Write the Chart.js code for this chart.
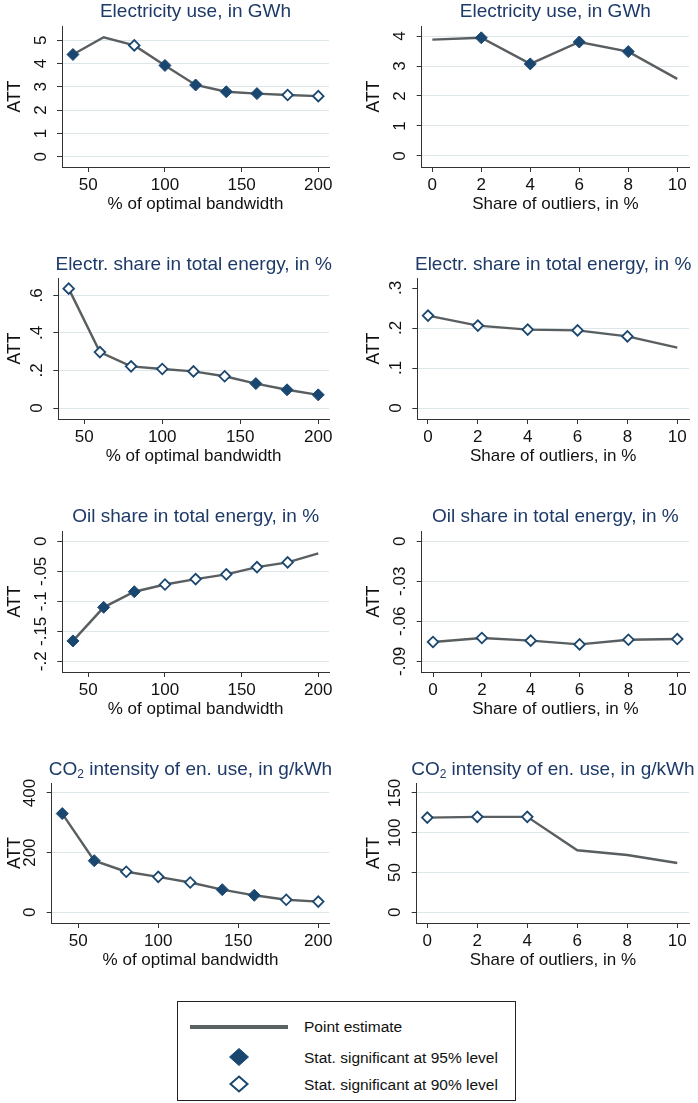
<!DOCTYPE html>
<html>
<head>
<meta charset="utf-8">
<script src="https://cdn.jsdelivr.net/npm/chart.js@4.4.1/dist/chart.umd.min.js"></script>
<style>
  body { margin: 0; background: #fff; font-family: "Liberation Sans", Arial, Helvetica, sans-serif; }
  #page { position: relative; width: 698px; height: 1103px; overflow: hidden; }
  canvas { position: absolute; }
  .ttl { position: absolute; width: 420px; text-align: center; white-space: nowrap;
         font-size: 19px; line-height: 19px; color: #1e3a68; }
  .ttl sub { font-size: 12px; line-height: 0; vertical-align: -3px; }
  #legend { position: absolute; left: 177px; top: 1001px; width: 339px; height: 100px;
            box-sizing: border-box; border: 1px solid #222; font-size: 15.5px; color: #111; }
  #legend .row { position: absolute; left: 126px; line-height: 18px; white-space: nowrap; }
  #legend svg { position: absolute; }
</style>
</head>
<body>
<div id="page"></div>
<script>
// x values
var bandwidth = [40, 60, 80, 100, 120, 140, 160, 180, 200];
var outliers = [0, 2, 4, 6, 8, 10];
var bwTicks = [50, 100, 150, 200];
var outTicks = [0, 2, 4, 6, 8, 10];

// point estimates; sig: 2 = 95% level, 1 = 90% level, 0 = not significant
var elecBw = [4.39, 5.13, 4.78, 3.92, 3.08, 2.79, 2.71, 2.65, 2.60];
var elecBwSig = [2, 0, 1, 2, 2, 2, 2, 1, 1];
var elecOut = [3.88, 3.94, 3.07, 3.80, 3.48, 2.57];
var elecOutSig = [0, 2, 2, 2, 2, 0];

var eshareBw = [0.636, 0.298, 0.222, 0.208, 0.195, 0.169, 0.130, 0.097, 0.070];
var eshareBwSig = [1, 1, 1, 1, 1, 1, 2, 2, 2];
var eshareOut = [0.231, 0.206, 0.196, 0.194, 0.179, 0.151];
var eshareOutSig = [1, 1, 1, 1, 1, 0];

var oilBw = [-0.166, -0.110, -0.084, -0.072, -0.063, -0.055, -0.043, -0.035, -0.020];
var oilBwSig = [2, 2, 2, 1, 1, 1, 1, 1, 0];
var oilOut = [-0.0755, -0.0725, -0.0745, -0.0773, -0.0738, -0.0733];
var oilOutSig = [1, 1, 1, 1, 1, 1];

var co2Bw = [331, 173, 136, 119, 100, 76, 57, 42, 36];
var co2BwSig = [2, 2, 1, 1, 1, 2, 2, 1, 1];
var co2Out = [119, 120, 120, 78, 72, 62];
var co2OutSig = [1, 1, 1, 0, 0, 0];

// y ticks and their labels
var elecBwTicks = [0, 1, 2, 3, 4, 5], elecBwLabels = ['0', '1', '2', '3', '4', '5'];
var elecOutTicks = [0, 1, 2, 3, 4], elecOutLabels = ['0', '1', '2', '3', '4'];
var eshareBwTicks = [0, 0.2, 0.4, 0.6], eshareBwLabels = ['0', '.2', '.4', '.6'];
var eshareOutTicks = [0, 0.1, 0.2, 0.3], eshareOutLabels = ['0', '.1', '.2', '.3'];
var oilBwTicks = [-0.2, -0.15, -0.1, -0.05, 0], oilBwLabels = ['-.2', '-.15', '-.1', '-.05', '0'];
var oilOutTicks = [-0.09, -0.06, -0.03, 0], oilOutLabels = ['-.09', '-.06', '-.03', '0'];
var co2BwTicks = [0, 200, 400], co2BwLabels = ['0', '200', '400'];
var co2OutTicks = [0, 50, 100, 150], co2OutLabels = ['0', '50', '100', '150'];

var T_ELEC = 'Electricity use, in GWh';
var T_SHARE = 'Electr. share in total energy, in %';
var T_OIL = 'Oil share in total energy, in %';
var T_CO2 = 'CO<sub>2</sub> intensity of en. use, in g/kWh';
var X_BW = '% of optimal bandwidth';
var X_OUT = 'Share of outliers, in %';

var NAVY = '#1a476f', LINE = '#595e60', GRID = '#dde7ea', AXIS = '#333', TXT = '#111';
var FONT = '"Liberation Sans", Arial, Helvetica, sans-serif';

// plot boxes: [left, top, right, bottom] in page pixels
var panels = [
  { title: T_ELEC, xt: X_BW, xs: bandwidth, ys: elecBw, sig: elecBwSig, xTicks: bwTicks, yTicks: elecBwTicks, yLabels: elecBwLabels,
    col: 0, box: [62, 25.5, 329, 166.3], x: [32.85, 206.98], y: [-0.442, 5.614] },
  { title: T_ELEC, xt: X_OUT, xs: outliers, ys: elecOut, sig: elecOutSig, xTicks: outTicks, yTicks: elecOutTicks, yLabels: elecOutLabels,
    col: 1, box: [421.7, 25.5, 689, 166.3], x: [-0.433, 10.48], y: [-0.368, 4.334] },
  { title: T_SHARE, xt: X_BW, xs: bandwidth, ys: eshareBw, sig: eshareBwSig, xTicks: bwTicks, yTicks: eshareBwTicks, yLabels: eshareBwLabels,
    col: 0, box: [58.3, 278.3, 329, 419.3], x: [33.33, 206.9], y: [-0.0586, 0.6927] },
  { title: T_SHARE, xt: X_OUT, xs: outliers, ys: eshareOut, sig: eshareOutSig, xTicks: outTicks, yTicks: eshareOutTicks, yLabels: eshareOutLabels,
    col: 1, box: [417.3, 278.3, 689, 419.3], x: [-0.429, 10.47], y: [-0.0275, 0.325], noGrid: [0.3] },
  { title: T_OIL, xt: X_BW, xs: bandwidth, ys: oilBw, sig: oilBwSig, xTicks: bwTicks, yTicks: oilBwTicks, yLabels: oilBwLabels,
    col: 0, box: [62.3, 530.7, 329, 671.7], x: [33.04, 206.98], y: [-0.2178, 0.0172] },
  { title: T_OIL, xt: X_OUT, xs: outliers, ys: oilOut, sig: oilOutSig, xTicks: outTicks, yTicks: oilOutTicks, yLabels: oilOutLabels,
    col: 1, box: [421.7, 530.7, 689, 671.7], x: [-0.463, 10.48], y: [-0.098, 0.0077] },
  { title: T_CO2, xt: X_BW, xs: bandwidth, ys: co2Bw, sig: co2BwSig, xTicks: bwTicks, yTicks: co2BwTicks, yLabels: co2BwLabels,
    col: 0, box: [51.7, 783.3, 329.3, 923.7], x: [33.4, 206.9], y: [-35.8, 433.4] },
  { title: T_CO2, xt: X_OUT, xs: outliers, ys: co2Out, sig: co2OutSig, xTicks: outTicks, yTicks: co2OutTicks, yLabels: co2OutLabels,
    col: 1, box: [416.7, 783.3, 689, 923.7], x: [-0.424, 10.47], y: [-13.4, 162.5] }
];

// rotated y tick labels, Stata style
var yLabelsPlugin = {
  id: 'yLabels',
  afterDraw: function (chart, args, opts) {
    var s = chart.scales.y, ctx = chart.ctx;
    ctx.save();
    ctx.font = '17px ' + FONT;
    ctx.fillStyle = TXT;
    ctx.textAlign = 'center';
    ctx.textBaseline = 'middle';
    s.ticks.forEach(function (t, i) {
      ctx.save();
      ctx.translate(s.right - 21, s.getPixelForValue(t.value));
      ctx.rotate(-Math.PI / 2);
      ctx.fillText(opts.labels[i], 0, 0);
      ctx.restore();
    });
    ctx.restore();
  }
};

Chart.defaults.font.family = FONT;
var page = document.getElementById('page');

panels.forEach(function (p) {
  var colX = p.col ? 349 : 0, padL = p.col ? 10 : 0, padT = 12, xH = 48;
  var L = p.box[0], T = p.box[1], R = p.box[2], B = p.box[3];
  var cv = document.createElement('canvas');
  cv.width = 349;
  cv.height = Math.round(B - T + padT + xH);
  cv.style.left = colX + 'px';
  cv.style.top = (T - padT) + 'px';
  page.appendChild(cv);

  var t = document.createElement('div');
  t.className = 'ttl';
  t.innerHTML = p.title;
  t.style.left = ((L + R) / 2 - 210) + 'px';
  t.style.top = (T - 24.5) + 'px';
  page.appendChild(t);

  var noGrid = p.noGrid || [];
  new Chart(cv, {
    type: 'scatter',
    data: {
      datasets: [{
        data: p.xs.map(function (x, i) { return { x: x, y: p.ys[i] }; }),
        showLine: true,
        tension: 0,
        borderColor: LINE,
        borderWidth: 2.4,
        pointStyle: 'rectRot',
        pointRadius: p.sig.map(function (s) { return s === 2 ? 6 : s === 1 ? 5.3 : 0; }),
        pointBackgroundColor: p.sig.map(function (s) { return s === 2 ? NAVY : '#fff'; }),
        pointBorderColor: NAVY,
        pointBorderWidth: p.sig.map(function (s) { return s === 2 ? 1 : 1.8; }),
        clip: false
      }]
    },
    options: {
      responsive: false,
      animation: false,
      events: [],
      devicePixelRatio: 1,
      layout: { padding: { left: padL, top: padT, right: colX + 349 - R, bottom: 0 } },
      plugins: { legend: { display: false }, tooltip: { enabled: false }, yLabels: { labels: p.yLabels } },
      scales: {
        x: {
          type: 'linear', position: 'bottom', min: p.x[0], max: p.x[1],
          afterBuildTicks: function (s) { s.ticks = p.xTicks.map(function (v) { return { value: v }; }); },
          afterFit: function (s) { s.height = xH; },
          ticks: { font: { size: 17 }, color: TXT, maxRotation: 0, autoSkip: false, padding: 3,
                   callback: function (v) { return String(v); } },
          grid: { drawOnChartArea: false, color: AXIS, tickColor: AXIS, tickLength: 5 },
          border: { color: AXIS, width: 1 },
          title: { display: true, text: p.xt, font: { size: 17 }, color: TXT, padding: 0 }
        },
        y: {
          type: 'linear', position: 'left', min: p.y[0], max: p.y[1],
          afterBuildTicks: function (s) { s.ticks = p.yTicks.map(function (v) { return { value: v }; }); },
          afterFit: function (s) { s.width = L - colX - padL; },
          ticks: { display: false },
          grid: {
            color: function (c) { return c.tick && noGrid.indexOf(c.tick.value) >= 0 ? 'rgba(0,0,0,0)' : GRID; },
            tickColor: AXIS, tickLength: 5, lineWidth: 1
          },
          border: { color: AXIS, width: 1 },
          title: { display: true, text: 'ATT', font: { size: 17.5 }, color: TXT, padding: { top: 4.5, bottom: 0 } }
        }
      }
    },
    plugins: [yLabelsPlugin]
  });
});
</script>
<div id="legend">
  <div style="position:absolute; left:12px; top:23px; width:98px; height:3.5px; background:#5b6062;"></div>
  <div class="row" style="top:16px;">Point estimate</div>
  <svg width="22" height="20" style="left:50px; top:45px;" viewBox="0 0 22 20">
    <polygon points="11,1.5 20.5,10 11,18.5 1.5,10" fill="#1a476f" stroke="#1a476f" stroke-width="1"/>
  </svg>
  <div class="row" style="top:47px;">Stat. significant at 95% level</div>
  <svg width="22" height="20" style="left:50px; top:72px;" viewBox="0 0 22 20">
    <polygon points="11,2.5 19.5,10 11,17.5 2.5,10" fill="#fff" stroke="#1a476f" stroke-width="2"/>
  </svg>
  <div class="row" style="top:74px;">Stat. significant at 90% level</div>
</div>
</body>
</html>
